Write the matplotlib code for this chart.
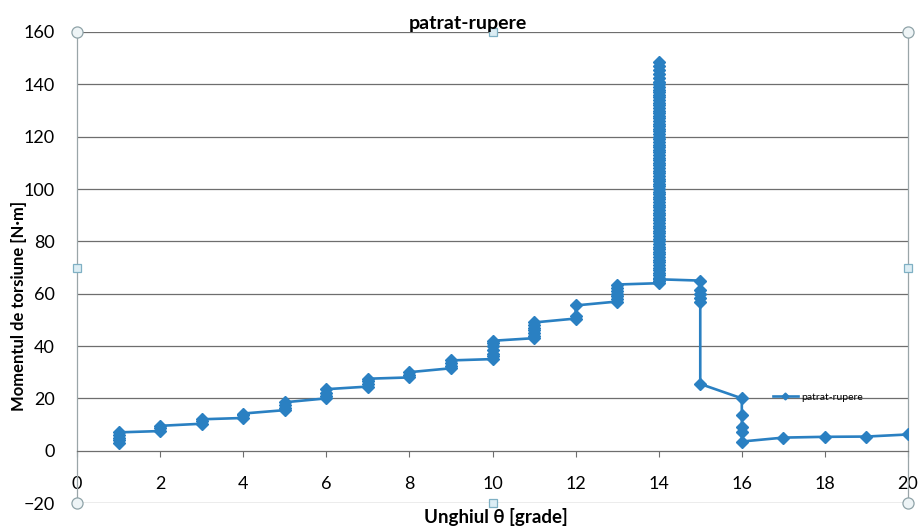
import numpy as np
import matplotlib.pyplot as plt

# torque readings per angle step (several readings at each integer angle)
angles = [1, 2, 3, 4, 5, 6, 7, 8, 9, 10, 11, 12, 13, 14, 15, 16, 17, 18, 19, 20]
readings = [
    [3, 4, 5, 6, 7],
    [7.5, 8.5, 9.5],
    [10.3, 11.2, 12],
    [12.5, 13.5, 14.2],
    [15.5, 16.5, 17.5, 18.5],
    [20, 21, 22, 23.5],
    [24.5, 25.5, 26.5, 27.5],
    [28, 29, 30],
    [31.5, 32.5, 33.5, 34.5],
    [35, 36, 37, 38.5, 40, 41, 42],
    [43, 44, 45, 46, 47, 48, 49],
    [50.5, 51.5, 55.5],
    [57, 58, 59, 60, 61, 62, 63.5],
    [64, 65, 66, 67, 68, 69, 70, 71, 72, 73, 74, 75, 76, 77, 78, 79, 80,
     81, 82, 83, 84, 85, 86, 87, 88, 89, 90, 91, 92, 93, 94, 95, 96, 97,
     98, 99, 100, 101, 102, 103, 104, 105, 106, 107, 108, 109, 110, 111,
     112, 113, 114, 115, 116, 117, 118, 119, 120, 121, 122, 123, 124, 125,
     126, 127, 128, 129, 130, 131, 132, 133, 134, 135, 136, 137, 138, 139,
     140, 141, 142.5, 144, 145.5, 147, 148.5, 65.5],
    [65, 61.5, 60, 58.5, 57, 25.5],
    [20, 13.5, 9, 7, 3.5],
    [5],
    [5.3],
    [5.4],
    [6.2],
]

x_vals = []
y_vals = []
for a, r in zip(angles, readings):
    x_vals += [a] * len(r)
    y_vals += r

title = "patrat-rupere"
blue = "#2a80c2"

plt.rcParams["font.family"] = ["Lato", "DejaVu Sans"]

fig = plt.figure(figsize=(9.21, 5.28), dpi=100)
ax = fig.add_axes([0.0836, 0.0473, 0.9023, 0.8921])

ax.set_xlim(0, 20)
ax.set_ylim(-20, 160)
ax.set_xticks(np.arange(0, 21, 2))
ax.set_yticks(np.arange(-20, 161, 20))

# horizontal gridlines
for gy in np.arange(-20, 161, 20):
    if gy == 0:
        continue
    ax.axhline(gy, color="#6e6e6e", lw=0.9, zorder=1)

ax.spines["bottom"].set_position(("data", 0))
ax.spines["bottom"].set_color("#6e6e6e")
ax.spines["bottom"].set_linewidth(0.9)
ax.spines["top"].set_visible(False)
ax.spines["left"].set_color("#9aa5a8")
ax.spines["right"].set_color("#9aa5a8")
ax.spines["left"].set_linewidth(0.9)
ax.spines["right"].set_linewidth(0.9)

ax.tick_params(axis="x", direction="out", length=4, width=0.8, color="#6e6e6e",
               pad=14, labelsize=13)
ax.tick_params(axis="y", length=0, pad=16, labelsize=13)

ax.plot(x_vals, y_vals, "-", color=blue, lw=1.9, marker="D", ms=6.3,
        mec=blue, mfc=blue, label=title, zorder=3)

fig.text(468 / 921, 1 - 29 / 528, title, fontsize=14, fontweight="bold",
         ha="center", va="baseline", zorder=6)
fig.text(496 / 921, 1 - 517 / 528, "Unghiul θ [grade]", fontsize=13.5,
         fontweight="bold", ha="center", va="center")
fig.text(19 / 921, 1 - 306 / 528, "Momentul de torsiune [N·m]", fontsize=12,
         fontweight="bold", ha="center", va="center", rotation=90)

ax.legend(loc="center left", bbox_to_anchor=(0.831, 0.225), frameon=False,
          fontsize=7.5, handlelength=2.4, handletextpad=0.3, borderpad=0,
          markerscale=0.55)

# chart selection handles seen on the frame
for hx, hy in [(0, 0), (1, 0), (0, 1), (1, 1)]:
    ax.plot(hx, hy, "o", ms=8, mfc="#eef4f6", mec="#8fa3a8", mew=0.9,
            transform=ax.transAxes, clip_on=False, zorder=5)
for hx, hy in [(0.5, 0), (0.5, 1), (0, 0.5), (1, 0.5)]:
    ax.plot(hx, hy, "s", ms=6, mfc="#dcedf4", mec="#7fb0c4", mew=0.9,
            transform=ax.transAxes, clip_on=False, zorder=5)

fig.savefig("out.png", dpi=100)
